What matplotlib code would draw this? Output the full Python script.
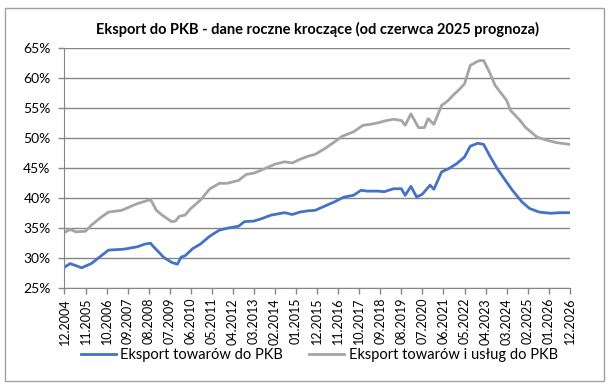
import matplotlib
matplotlib.use("Agg")
import matplotlib.pyplot as plt
from matplotlib.patches import Rectangle

# months counted from 12.2004 (index 0) to 12.2026 (index 264)
goods_m = [0, 3, 9, 14, 19, 23, 31, 38, 42, 45, 46, 49, 52, 56, 59, 60, 61, 63,
           67, 71, 76, 81, 85, 91, 94, 99, 103, 108, 115, 119, 123, 127, 131,
           136, 141, 146, 151, 155, 158, 164, 167, 172, 176, 178, 181, 184,
           187, 191, 193, 197, 201, 205, 209, 212, 216, 219, 222, 226, 231,
           234, 239, 243, 248, 254, 259, 264]
goods_v = [28.4, 29.0, 28.3, 29.0, 30.25, 31.25, 31.4, 31.8, 32.25, 32.4, 32.0,
           31.0, 30.0, 29.2, 28.9, 29.5, 30.1, 30.3, 31.5, 32.25, 33.6, 34.6,
           34.9, 35.25, 36.0, 36.1, 36.5, 37.1, 37.5, 37.2, 37.6, 37.8, 37.9,
           38.6, 39.3, 40.1, 40.4, 41.25, 41.1, 41.1, 41.0, 41.5, 41.5, 40.4,
           41.9, 40.1, 40.6, 42.1, 41.4, 44.3, 44.9, 45.7, 46.8, 48.6, 49.1,
           48.9, 47.1, 44.9, 42.6, 41.25, 39.3, 38.2, 37.6, 37.4, 37.5, 37.5]

total_m = [0, 3, 6, 11, 14, 19, 23, 30, 35, 38, 42, 45, 48, 51, 56, 58, 60, 63,
           66, 71, 76, 81, 85, 91, 95, 99, 105, 110, 115, 119, 123, 127, 131,
           136, 141, 145, 151, 156, 160, 165, 167, 172, 176, 178, 181, 185,
           188, 190, 193, 197, 200, 204, 206, 209, 212, 216, 217, 219, 222,
           225, 231, 233, 238, 241, 247, 252, 257, 264]
total_v = [34.2, 34.7, 34.3, 34.4, 35.4, 36.7, 37.6, 37.9, 38.6, 39.0, 39.4,
           39.7, 37.9, 37.1, 36.0, 36.1, 36.9, 37.1, 38.2, 39.6, 41.5, 42.4,
           42.4, 42.9, 43.9, 44.1, 44.9, 45.6, 46.0, 45.8, 46.4, 46.9, 47.25,
           48.2, 49.3, 50.25, 51.0, 52.1, 52.25, 52.6, 52.8, 53.1, 52.9, 52.1,
           54.0, 51.7, 51.7, 53.2, 52.25, 55.4, 56.1, 57.4, 58.0, 59.0, 62.1,
           62.8, 62.9, 62.9, 61.0, 58.75, 56.25, 54.6, 52.9, 51.7, 50.1, 49.6,
           49.2, 48.9]

tick_labels = ["12.2004", "11.2005", "10.2006", "09.2007", "08.2008", "07.2009",
               "06.2010", "05.2011", "04.2012", "03.2013", "02.2014", "01.2015",
               "12.2015", "11.2016", "10.2017", "09.2018", "08.2019", "07.2020",
               "06.2021", "05.2022", "04.2023", "03.2024", "02.2025", "01.2026",
               "12.2026"]
y_ticks = [25, 30, 35, 40, 45, 50, 55, 60, 65]

plt.rcParams['font.family'] = ['Lato', 'DejaVu Sans']
grid_c = '#868686'

fig = plt.figure(figsize=(6.14, 3.87), dpi=100)
ax = fig.add_axes([0.105, 0.257, 0.823, 0.619])

ax.plot(goods_m, goods_v, color='#4472C4', lw=2, label='Eksport towarów do PKB')
ax.plot(total_m, total_v, color='#A5A5A5', lw=2, label='Eksport towarów i usług do PKB')

ax.set_xlim(0, 264)
ax.set_ylim(25, 65)
ax.set_yticks(y_ticks)
ax.set_yticklabels([f"{v}%" for v in y_ticks], fontsize=10)
ax.set_xticks(range(0, 265, 11))
ax.set_xticklabels(tick_labels, rotation=90, fontsize=9)
ax.yaxis.grid(True, color=grid_c, lw=1)
ax.set_axisbelow(True)
for s in ['top', 'right']:
    ax.spines[s].set_visible(False)
ax.spines['left'].set_color(grid_c)
ax.spines['bottom'].set_color(grid_c)
ax.tick_params(axis='both', color=grid_c, length=4, width=1)
ax.tick_params(axis='y', pad=6)

ax.set_title('Eksport do PKB - dane roczne kroczące (od czerwca 2025 prognoza)',
             fontsize=10.5, fontweight='bold', pad=10)

fig.legend(loc='center', bbox_to_anchor=(0.52, 0.083), ncol=2, frameon=False,
           fontsize=10.5, handlelength=2.4, columnspacing=1.8, handletextpad=0.3)

fig.patches.append(Rectangle((0.008, 0.015), 0.975, 0.965, transform=fig.transFigure,
                             fill=False, edgecolor='#A0A0A0', lw=1))

fig.savefig('out.png', dpi=100)
